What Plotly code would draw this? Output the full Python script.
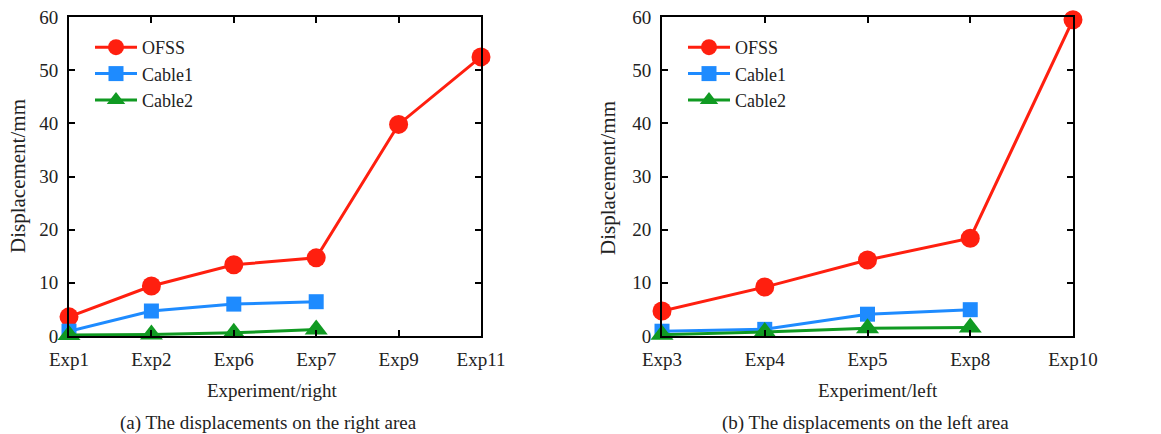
import plotly.graph_objects as go

# ---- data ----
right_exps = ["Exp1", "Exp2", "Exp6", "Exp7", "Exp9", "Exp11"]
right_ofss = [3.6, 9.4, 13.4, 14.7, 39.8, 52.5]
right_cable1 = [0.9, 4.7, 6.0, 6.45]
right_cable2 = [0.2, 0.3, 0.6, 1.2]

left_exps = ["Exp3", "Exp4", "Exp5", "Exp8", "Exp10"]
left_ofss = [4.7, 9.2, 14.3, 18.4, 59.5]
left_cable1 = [0.9, 1.25, 4.1, 4.95]
left_cable2 = [0.25, 0.75, 1.45, 1.6]

series_names = ["OFSS", "Cable1", "Cable2"]
colors = ["#FF1F0F", "#1E8BFF", "#109A22"]
symbols = ["circle", "square", "triangle-up"]
sizes = [19, 15, 20]

y_ticks = [0, 10, 20, 30, 40, 50, 60]

FONT = "Liberation Serif, Times New Roman, serif"
TXT = "#222"
W, H = 1161, 434

fig = go.Figure()

def add_panel(exps, data, xa, ya, legend):
    for name, vals, c, s, sz in zip(series_names, data, colors, symbols, sizes):
        fig.add_trace(go.Scatter(
            x=list(range(len(vals))), y=vals, name=name, mode="lines+markers",
            line=dict(color=c, width=3),
            marker=dict(color=c, symbol=s, size=sz),
            xaxis=xa, yaxis=ya, legend=legend, cliponaxis=False,
        ))

add_panel(right_exps, [right_ofss, right_cable1, right_cable2], "x", "y", "legend")
add_panel(left_exps, [left_ofss, left_cable1, left_cable2], "x2", "y2", "legend2")

def px(x):
    return x / W

def py(y):
    return 1 - y / H

axis_common = dict(showline=True, mirror="ticks", linecolor="black", linewidth=2,
                   ticks="inside", ticklen=6, tickwidth=2, tickcolor="black",
                   showgrid=False, zeroline=False, automargin=False,
                   tickfont=dict(family=FONT, size=19, color=TXT))

legend_common = dict(xanchor="left", yanchor="top", bgcolor="rgba(0,0,0,0)",
                     itemwidth=42, tracegroupgap=0,
                     font=dict(family=FONT, size=18, color=TXT))

fig.update_layout(
    template="none",
    width=W, height=H, margin=dict(l=0, r=0, t=0, b=0, autoexpand=False),
    plot_bgcolor="white", paper_bgcolor="white",
    font=dict(family=FONT, size=19, color=TXT),
    xaxis=dict(domain=[px(69), px(481)], range=[0, len(right_exps) - 1],
               tickvals=list(range(len(right_exps))), ticktext=right_exps,
               anchor="y", ticklabelstandoff=5, **axis_common),
    yaxis=dict(domain=[py(336), py(17)], range=[0, 60], tickvals=y_ticks,
               anchor="x", ticklabelstandoff=5, **axis_common),
    xaxis2=dict(domain=[px(662), px(1073)], range=[0, len(left_exps) - 1],
                tickvals=list(range(len(left_exps))), ticktext=left_exps,
                anchor="y2", ticklabelstandoff=5, **axis_common),
    yaxis2=dict(domain=[py(336), py(17)], range=[0, 60], tickvals=y_ticks,
                anchor="x2", ticklabelstandoff=5, **axis_common),
    legend=dict(x=px(90), y=py(29), **legend_common),
    legend2=dict(x=px(683), y=py(29), **legend_common),
    showlegend=True,
)

texts = [
    ("Experiment/right", 272, 390, 0, 19),
    ("Experiment/left", 878, 390, 0, 19),
    ("(a) The displacements on the right area", 268, 423, 0, 19),
    ("(b) The displacements on the left area", 865, 423, 0, 19),
    ("Displacement/mm", 18, 176, -90, 21),
    ("Displacement/mm", 608, 178, -90, 21),
]
for t, x, y, ang, fs in texts:
    fig.add_annotation(text=t, x=px(x), y=py(y), xref="paper", yref="paper",
                       showarrow=False, textangle=ang, xanchor="center", yanchor="middle",
                       font=dict(family=FONT, size=fs, color=TXT))

fig.write_html("out.html", config={"displayModeBar": False},
               post_script="document.body.style.margin='0';document.body.style.overflow='hidden';")
